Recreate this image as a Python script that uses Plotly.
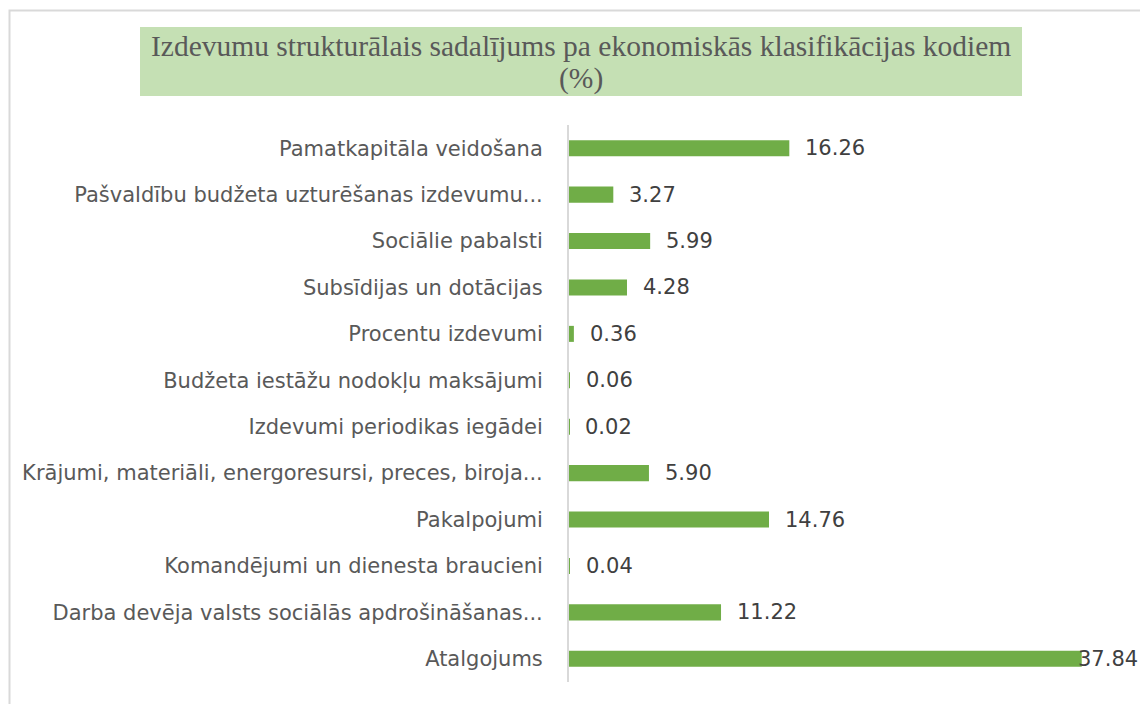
import plotly.graph_objects as go

categories = [
    "Pamatkapitāla veidošana",
    "Pašvaldību budžeta uzturēšanas izdevumu...",
    "Sociālie pabalsti",
    "Subsīdijas un dotācijas",
    "Procentu izdevumi",
    "Budžeta iestāžu nodokļu maksājumi",
    "Izdevumi periodikas iegādei",
    "Krājumi, materiāli, energoresursi, preces, biroja...",
    "Pakalpojumi",
    "Komandējumi un dienesta braucieni",
    "Darba devēja valsts sociālās apdrošināšanas...",
    "Atalgojums",
]
values = [16.26, 3.27, 5.99, 4.28, 0.36, 0.06, 0.02, 5.90, 14.76, 0.04, 11.22, 37.84]
value_labels = [f"{v:.2f}" for v in values]

title_line1 = "Izdevumu strukturālais sadalījums pa ekonomiskās klasifikācijas kodiem"
title_line2 = "(%)"

W, H = 1140, 704
BAR_COLOR = "#70AD47"
TEXT_COLOR = "#595959"
LABEL_FONT = "DejaVu Sans"

fig = go.Figure()
fig.add_trace(go.Bar(
    x=values,
    y=categories,
    orientation="h",
    marker=dict(color=BAR_COLOR, line=dict(width=0)),
    hoverinfo="x+y",
))

annotations = []
vmax = max(values)
for cat, v, lab in zip(categories, values, value_labels):
    if v == vmax:
        annotations.append(dict(
            x=1.0, xref="paper", y=cat, yref="y", text=lab, showarrow=False,
            xanchor="right", yanchor="middle", xshift=0,
            font=dict(family=LABEL_FONT, size=21, color="#404040"),
        ))
    else:
        annotations.append(dict(
            x=v, xref="x", y=cat, yref="y", text=lab, showarrow=False,
            xanchor="left", yanchor="middle", xshift=14,
            font=dict(family=LABEL_FONT, size=21, color="#404040"),
        ))

annotations.append(dict(
    x=581 / W, xref="paper", y=1 - 46 / H, yref="paper", text=title_line1,
    showarrow=False, xanchor="center", yanchor="middle",
    font=dict(family="Liberation Serif", size=29.5, color=TEXT_COLOR),
))
annotations.append(dict(
    x=581 / W, xref="paper", y=1 - 78 / H, yref="paper", text=title_line2,
    showarrow=False, xanchor="center", yanchor="middle",
    font=dict(family="Liberation Serif", size=29.5, color=TEXT_COLOR),
))

shapes = [
    dict(type="rect", xref="paper", yref="paper",
         x0=140 / W, x1=1022 / W, y0=1 - 96 / H, y1=1 - 27 / H,
         fillcolor="#C5E0B4", line=dict(width=0), layer="below"),
    dict(type="rect", xref="paper", yref="paper",
         x0=9.5 / W, x1=1.02, y0=-0.02, y1=1 - 10.5 / H,
         fillcolor="rgba(0,0,0,0)", line=dict(color="#D9D9D9", width=2), layer="below"),
]

fig.update_layout(
    width=W, height=H,
    margin=dict(l=0, r=0, t=0, b=0),
    paper_bgcolor="white", plot_bgcolor="white",
    showlegend=False,
    bargap=0.655,
    annotations=annotations,
    shapes=shapes,
    xaxis=dict(
        domain=[569 / W, 1111 / W], range=[0, 40],
        showgrid=False, zeroline=False, showticklabels=False, showline=False,
    ),
    yaxis=dict(
        domain=[1 - 682 / H, 1 - 125 / H],
        autorange="reversed",
        showgrid=False, zeroline=False,
        showline=True, linecolor="#D9D9D9", linewidth=2,
        ticks="", ticklabelstandoff=20,
        tickfont=dict(family=LABEL_FONT, size=21, color=TEXT_COLOR),
        automargin=False,
    ),
)

fig.write_html(
    "out.html",
    config={"displayModeBar": False},
    post_script="document.body.style.margin='0';document.body.style.overflow='hidden';",
)
